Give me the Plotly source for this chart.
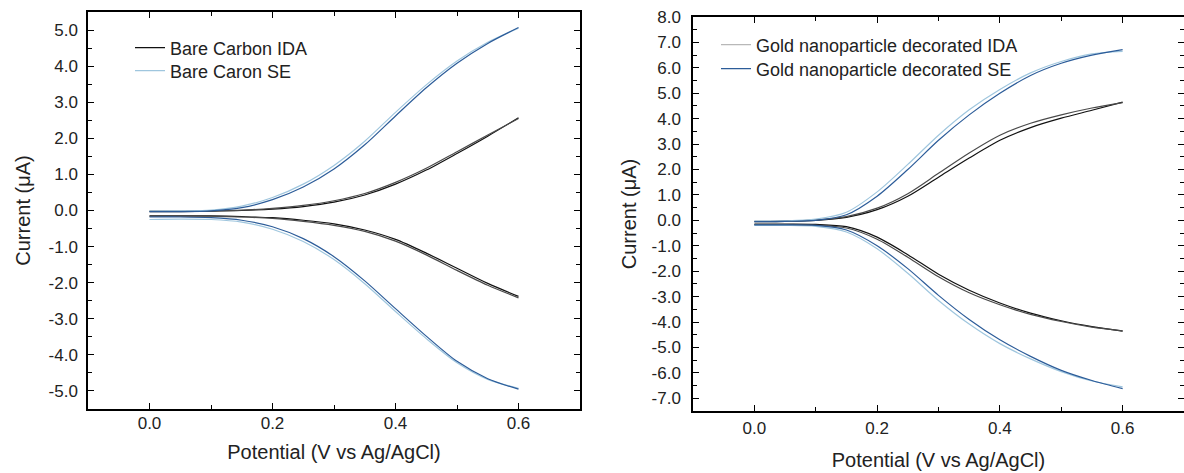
import plotly.graph_objects as go

# Potential grid (V vs Ag/AgCl)
potential = [0.0, 0.05, 0.1, 0.15, 0.2, 0.25, 0.3, 0.35, 0.4, 0.45, 0.5, 0.55, 0.6]

# ---- Left panel: bare carbon ----
bare_se_up_fwd = [-0.03, -0.03, -0.01, 0.08, 0.30, 0.65, 1.15, 1.82, 2.62, 3.40, 4.08, 4.63, 5.07]
bare_se_up_rev = [-0.02, -0.01, 0.01, 0.12, 0.36, 0.73, 1.25, 1.92, 2.72, 3.48, 4.14, 4.66, 5.05]
bare_se_low_fwd = [-0.18, -0.18, -0.20, -0.27, -0.45, -0.78, -1.28, -1.95, -2.72, -3.48, -4.18, -4.66, -4.95]
bare_se_low_rev = [-0.25, -0.24, -0.25, -0.32, -0.52, -0.86, -1.36, -2.03, -2.80, -3.55, -4.22, -4.68, -4.93]
bare_ida_up_fwd = [-0.03, -0.03, -0.02, 0.00, 0.04, 0.11, 0.23, 0.43, 0.73, 1.12, 1.58, 2.06, 2.57]
bare_ida_up_rev = [-0.02, -0.02, -0.01, 0.01, 0.06, 0.14, 0.27, 0.47, 0.78, 1.17, 1.63, 2.09, 2.55]
bare_ida_low_fwd = [-0.15, -0.15, -0.15, -0.17, -0.20, -0.27, -0.37, -0.54, -0.80, -1.18, -1.60, -2.02, -2.38]
bare_ida_low_rev = [-0.16, -0.16, -0.16, -0.18, -0.22, -0.30, -0.41, -0.58, -0.85, -1.23, -1.66, -2.07, -2.42]

# ---- Right panel: gold nanoparticle decorated ----
gold_se_up_fwd = [-0.05, -0.04, 0.00, 0.22, 0.95, 2.00, 3.15, 4.15, 5.00, 5.70, 6.18, 6.50, 6.72]
gold_se_up_rev = [-0.03, -0.02, 0.05, 0.32, 1.12, 2.20, 3.35, 4.35, 5.15, 5.80, 6.25, 6.55, 6.65]
gold_se_low_fwd = [-0.18, -0.18, -0.20, -0.38, -1.00, -1.90, -2.95, -3.90, -4.70, -5.35, -5.90, -6.30, -6.62]
gold_se_low_rev = [-0.20, -0.20, -0.24, -0.46, -1.12, -2.08, -3.15, -4.08, -4.85, -5.45, -5.95, -6.32, -6.55]
gold_ida_up_fwd = [-0.05, -0.04, 0.00, 0.12, 0.42, 0.95, 1.70, 2.45, 3.15, 3.65, 4.02, 4.33, 4.65]
gold_ida_up_rev = [-0.04, -0.03, 0.02, 0.15, 0.48, 1.05, 1.85, 2.65, 3.35, 3.82, 4.15, 4.42, 4.63]
gold_ida_low_fwd = [-0.15, -0.15, -0.16, -0.25, -0.66, -1.35, -2.12, -2.75, -3.25, -3.65, -3.95, -4.18, -4.36]
gold_ida_low_rev = [-0.17, -0.17, -0.19, -0.30, -0.74, -1.45, -2.22, -2.85, -3.32, -3.70, -3.98, -4.20, -4.35]

y_ticks_left = [-5, -4, -3, -2, -1, 0, 1, 2, 3, 4, 5]
y_ticks_right = [-7, -6, -5, -4, -3, -2, -1, 0, 1, 2, 3, 4, 5, 6, 7, 8]
x_ticks = [0.0, 0.2, 0.4, 0.6]

DARK_BLUE = "#2c5c99"
LIGHT_BLUE = "#9fc6de"
BLACK = "#111111"
GRAY = "#4a4a4a"
LEGEND_GRAY = "#b8b8b8"
FONT = "Arial, Liberation Sans, sans-serif"
TXT = "#222222"

fig = go.Figure()


def add(y, color, xa, ya, rev=False, name=None, legend=None):
    xs = potential[::-1] if rev else potential
    ys = y[::-1] if rev else y
    fig.add_trace(go.Scatter(
        x=xs, y=ys, mode="lines", line=dict(color=color, width=1.2, shape="spline", smoothing=0.8),
        xaxis=xa, yaxis=ya, name=name or "", showlegend=name is not None,
        legend=legend or "legend", hoverinfo="skip"))


# left panel traces
add(bare_ida_up_fwd, BLACK, "x", "y", name="Bare Carbon IDA", legend="legend")
add(bare_ida_up_rev, GRAY, "x", "y", rev=True)
add(bare_ida_low_fwd, BLACK, "x", "y")
add(bare_ida_low_rev, GRAY, "x", "y", rev=True)
add(bare_se_up_rev, LIGHT_BLUE, "x", "y", rev=True, name="Bare Caron SE", legend="legend2")
add(bare_se_up_fwd, DARK_BLUE, "x", "y")
add(bare_se_low_rev, LIGHT_BLUE, "x", "y", rev=True)
add(bare_se_low_fwd, DARK_BLUE, "x", "y")

# right panel traces
fig.add_trace(go.Scatter(x=[None], y=[None], mode="lines", line=dict(color=LEGEND_GRAY, width=1.2),
                         xaxis="x2", yaxis="y2", name="Gold nanoparticle decorated IDA",
                         legend="legend3", hoverinfo="skip"))
add(gold_ida_up_fwd, BLACK, "x2", "y2")
add(gold_ida_up_rev, GRAY, "x2", "y2", rev=True)
add(gold_ida_low_fwd, BLACK, "x2", "y2")
add(gold_ida_low_rev, GRAY, "x2", "y2", rev=True)
add(gold_se_up_rev, LIGHT_BLUE, "x2", "y2", rev=True)
add(gold_se_up_fwd, DARK_BLUE, "x2", "y2", name="Gold nanoparticle decorated SE", legend="legend4")
add(gold_se_low_rev, LIGHT_BLUE, "x2", "y2", rev=True)
add(gold_se_low_fwd, DARK_BLUE, "x2", "y2")

W, H = 1184, 473

axis_common = dict(showline=True, linecolor="black", linewidth=1.5, mirror="allticks",
                   ticks="inside", ticklen=6, tickwidth=1.3, tickcolor="black",
                   showgrid=False, zeroline=False, automargin=False,
                   tickfont=dict(family=FONT, size=17, color=TXT))

MINOR_X = dict(dtick=0.1, tick0=0, ticks="inside", ticklen=4, tickwidth=1.2, tickcolor="black")
MINOR_Y = dict(dtick=0.5, tick0=0.5, ticks="inside", ticklen=4, tickwidth=1.2, tickcolor="black")
TITLE_FONT = dict(family=FONT, size=20, color=TXT)


def legend_at(xpx, ypx):
    return dict(x=xpx / W, y=1 - ypx / H, xanchor="left", yanchor="middle",
                bgcolor="rgba(0,0,0,0)", font=dict(family=FONT, size=18, color=TXT),
                tracegroupgap=0, borderwidth=0)


fig.update_layout(
    width=W, height=H, margin=dict(l=0, r=0, t=0, b=0, autoexpand=False),
    paper_bgcolor="white", plot_bgcolor="white",
    font=dict(family=FONT, color=TXT),
    xaxis=dict(axis_common, domain=[88 / W, 580 / W], anchor="y", range=[-0.1, 0.7],
               tickvals=x_ticks, ticktext=[f"{v:.1f}" for v in x_ticks], minor=MINOR_X,
               ticklabelstandoff=-2,
               title=dict(text="Potential (V vs Ag/AgCl)", standoff=13, font=TITLE_FONT)),
    yaxis=dict(axis_common, domain=[1 - 409 / H, 1 - 12 / H], anchor="x", range=[-5.5, 5.5],
               tickvals=y_ticks_left, ticktext=[f"{v:.1f}" for v in y_ticks_left], minor=MINOR_Y,
               ticklabelstandoff=5,
               title=dict(text="Current (μA)", standoff=13, font=TITLE_FONT)),
    xaxis2=dict(axis_common, domain=[693 / W, 1.0], anchor="y2", range=[-0.1, 0.7],
                tickvals=x_ticks, ticktext=[f"{v:.1f}" for v in x_ticks], minor=MINOR_X,
                ticklabelstandoff=1,
                title=dict(text="Potential (V vs Ag/AgCl)", standoff=16, font=TITLE_FONT)),
    yaxis2=dict(axis_common, domain=[1 - 411 / H, 1 - 17 / H], anchor="x2", range=[-7.5, 8.0],
                tickvals=y_ticks_right, ticktext=[f"{v:.1f}" for v in y_ticks_right], minor=MINOR_Y,
                ticklabelstandoff=7,
                title=dict(text="Current (μA)", standoff=10, font=TITLE_FONT)),
    legend=legend_at(130, 48),
    legend2=legend_at(130, 71),
    legend3=legend_at(716, 45),
    legend4=legend_at(716, 69),
)

fig.write_html("out.html", config={"displayModeBar": False},
               post_script="document.body.style.margin='0';document.body.style.overflow='hidden';")
